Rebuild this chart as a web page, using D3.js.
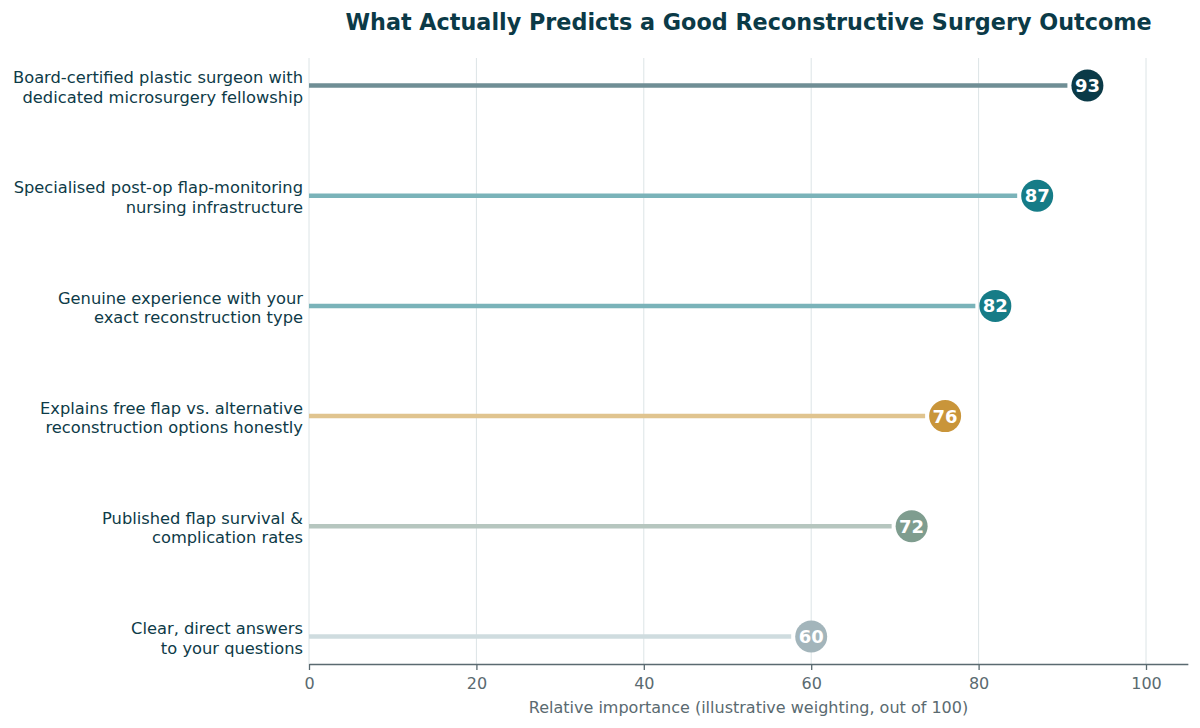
<!DOCTYPE html>
<html><head><meta charset="utf-8">
<script src="https://cdn.jsdelivr.net/npm/d3@7"></script>
<style>body{margin:0;background:#fff;font-family:"DejaVu Sans",sans-serif;}</style>
</head><body><svg id="c" width="1200" height="728"></svg>
<script>
const labels = [
  ["Board-certified plastic surgeon with","dedicated microsurgery fellowship"],
  ["Specialised post-op flap-monitoring","nursing infrastructure"],
  ["Genuine experience with your","exact reconstruction type"],
  ["Explains free flap vs. alternative","reconstruction options honestly"],
  ["Published flap survival &","complication rates"],
  ["Clear, direct answers","to your questions"]
];
const values = [93, 87, 82, 76, 72, 60];
const dotColors = ["#0b3a47","#167c87","#167c87","#c9953a","#7f9d8f","#a3b5bb"];
const stemColors = ["#6f8e95","#7ab3b9","#7ab3b9","#e0c48f","#b6c6bf","#cfdcdf"];
const xTicks = [0,20,40,60,80,100];
const title = "What Actually Predicts a Good Reconstructive Surgery Outcome";
const xTitle = "Relative importance (illustrative weighting, out of 100)";

const svg = d3.select("#c").style("font-family","'DejaVu Sans', sans-serif");
const pL = 309, pR = 1188, pT = 58, pB = 664;
const x = d3.scaleLinear().domain([0,105]).range([pL, pL + 837*1.05]);
const y = d3.scaleLinear().domain([-0.25, 5.25]).range([pT, pB]);

// grid
svg.append("g").selectAll("line").data(xTicks).join("line")
  .attr("x1", d=>x(d)).attr("x2", d=>x(d)).attr("y1", pT).attr("y2", pB)
  .attr("stroke","#dce4e6").attr("stroke-width",1);

// axis
const ax = svg.append("g").attr("transform",`translate(0,${pB})`)
  .call(d3.axisBottom(x).tickValues(xTicks).tickSize(6).tickPadding(8).tickSizeOuter(0));
ax.select(".domain").attr("stroke","#5a6a70").attr("stroke-width",1.3);
ax.selectAll(".tick line").attr("stroke","#5a6a70").attr("stroke-width",1.3);
ax.selectAll(".tick text").attr("fill","#5a6a70").style("font-size","16px").style("font-family","'DejaVu Sans', sans-serif");

svg.append("text").attr("x",(pL+pR)/2).attr("y",713).attr("text-anchor","middle")
  .attr("fill","#5a6a70").style("font-size","16px").text(xTitle);

svg.append("text").attr("x",(pL+pR)/2).attr("y",30).attr("text-anchor","middle")
  .attr("fill","#0b3a47").style("font-size","22.3px").style("font-weight","bold").text(title);

const r = 16;
const g = svg.append("g");
values.forEach((v,i)=>{
  const cy = y(i);
  g.append("line").attr("x1",x(0)).attr("x2",x(v)-r-4).attr("y1",cy).attr("y2",cy)
    .attr("stroke",stemColors[i]).attr("stroke-width",4.5);
  g.append("circle").attr("cx",x(v)).attr("cy",cy).attr("r",r).attr("fill",dotColors[i]);
  g.append("text").attr("x",x(v)).attr("y",cy).attr("dy","0.36em").attr("text-anchor","middle")
    .attr("fill","#fff").style("font-size","18px").style("font-weight","bold").text(v);
  const t = g.append("text").attr("x",303).attr("y",cy).attr("text-anchor","end")
    .attr("fill","#0e3b48").style("font-size","16.3px");
  labels[i].forEach((l,k)=>{
    t.append("tspan").attr("x",303).attr("y", cy - 8 + k*19.5).attr("dy","0.35em").text(l);
  });
});
</script></body></html>
